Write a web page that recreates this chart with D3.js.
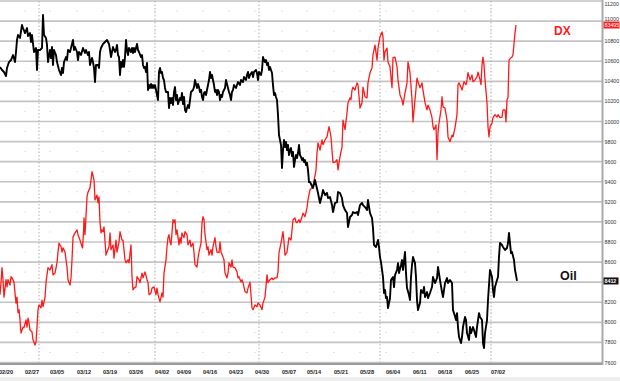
<!DOCTYPE html>
<html><head><meta charset="utf-8">
<script src="https://cdn.jsdelivr.net/npm/d3@7"></script>
<style>body{margin:0;background:#fff}svg{display:block;font-family:"Liberation Sans",Arial,sans-serif}</style>
</head><body><svg id="c" width="620" height="381"></svg>
<script>
// ---- data ----
const tickBars = [0,26,51,78,104,130,156,178,204,230,256,283,308,335,361,387,414,439,466,492];
const tickLabels = ["02/20","02/27","03/05","03/12","03/19","03/26","04/02","04/09","04/16","04/23","04/30","05/07","05/14","05/21","05/28","06/04","06/11","06/18","06/25","07/02"];
const monthStartBars = [40,156,260,381,492];
const yTicks = [7600,7800,8000,8200,8400,8600,8800,9000,9200,9400,9600,9800,10000,10200,10400,10600,10800,11000,11200];
const oilLast = 8412;
const dxLast = 83.495;
const oil = [[1,10543],[3,10513],[5,10493],[7,10453],[8,10533],[10,10592],[12,10612],[14,10662],[16,10592],[17,10692],[18,10812],[19,10861],[21,10832],[23,10961],[24,10931],[26,10881],[28,10931],[29,10851],[31,10881],[32,10792],[33,10861],[35,10692],[37,10732],[38,10513],[39,10712],[41,10712],[43,10732],[44,11061],[45,10861],[47,10832],[48,10762],[49,10592],[51,10712],[52,10632],[53,10742],[54,10563],[55,10712],[57,10662],[58,10592],[60,10513],[62,10463],[63,10533],[64,10483],[65,10592],[67,10642],[68,10612],[69,10712],[71,10692],[72,10732],[74,10812],[75,10712],[76,10742],[78,10692],[79,10612],[80,10692],[82,10662],[84,10732],[86,10682],[87,10712],[89,10662],[90,10692],[91,10563],[93,10632],[94,10592],[95,10533],[96,10393],[97,10563],[99,10563],[100,10533],[101,10692],[102,10732],[104,10772],[106,10792],[108,10812],[110,10772],[111,10712],[112,10642],[113,10692],[114,10742],[116,10692],[117,10712],[118,10762],[119,10662],[120,10642],[121,10463],[122,10592],[123,10543],[124,10612],[125,10543],[126,10642],[127,10812],[128,10712],[129,10662],[130,10732],[132,10692],[133,10732],[134,10682],[135,10732],[136,10692],[138,10772],[139,10712],[140,10692],[142,10642],[143,10662],[144,10563],[145,10533],[146,10543],[147,10493],[148,10583],[149,10314],[150,10363],[151,10334],[152,10373],[153,10334],[154,10363],[155,10334],[156,10363],[157,10314],[158,10264],[159,10214],[160,10493],[161,10533],[162,10483],[163,10493],[164,10433],[165,10413],[166,10334],[167,10294],[169,10294],[170,10134],[171,10234],[172,10184],[173,10234],[174,10164],[175,10294],[176,10343],[177,10214],[178,10264],[179,10174],[181,10234],[182,10214],[183,10284],[184,10174],[185,10244],[186,10114],[187,10094],[188,10134],[189,10164],[190,10134],[191,10214],[192,10294],[194,10314],[195,10343],[196,10413],[197,10373],[198,10334],[199,10373],[200,10343],[201,10294],[202,10314],[203,10244],[204,10214],[205,10284],[206,10294],[207,10264],[208,10314],[209,10363],[210,10413],[211,10493],[212,10433],[213,10463],[214,10413],[215,10363],[216,10294],[217,10314],[218,10264],[219,10314],[220,10294],[221,10214],[222,10264],[223,10244],[224,10294],[225,10314],[226,10334],[227,10413],[228,10373],[229,10334],[230,10294],[231,10264],[232,10214],[233,10294],[234,10314],[235,10363],[237,10334],[238,10363],[239,10393],[241,10363],[242,10413],[244,10393],[245,10443],[247,10413],[248,10463],[249,10493],[250,10433],[251,10463],[253,10493],[254,10443],[255,10493],[257,10513],[258,10483],[259,10413],[260,10493],[262,10463],[263,10513],[264,10642],[265,10612],[266,10592],[267,10612],[268,10563],[269,10583],[270,10513],[271,10543],[272,10513],[273,10483],[274,10363],[275,10264],[276,10284],[277,10244],[278,10214],[279,10065],[280,9865],[281,9816],[282,9766],[283,9537],[284,9716],[285,9816],[286,9746],[287,9796],[288,9716],[289,9766],[290,9666],[291,9716],[292,9736],[293,9656],[294,9696],[295,9547],[296,9616],[297,9666],[298,9636],[299,9686],[300,9766],[301,9666],[302,9646],[303,9616],[304,9636],[305,9596],[306,9616],[307,9567],[308,9587],[309,9517],[310,9397],[311,9397],[314,9338],[316,9417],[319,9288],[321,9188],[323,9268],[324,9318],[326,9268],[328,9288],[329,9238],[331,9248],[333,9168],[334,9098],[336,9188],[338,9198],[339,9298],[341,9288],[343,9238],[344,9168],[346,9118],[348,9088],[349,8949],[351,9049],[353,9069],[354,9098],[356,9088],[358,9098],[359,9069],[361,9168],[363,9188],[364,9168],[366,9148],[368,9118],[369,9218],[371,9088],[373,9039],[374,8939],[375,8770],[377,8750],[379,8820],[380,8750],[381,8650],[382,8600],[384,8451],[385,8292],[386,8322],[387,8242],[388,8252],[389,8142],[391,8242],[392,8421],[394,8451],[395,8351],[396,8471],[398,8521],[399,8590],[400,8491],[402,8571],[403,8620],[404,8521],[406,8700],[407,8491],[408,8342],[410,8272],[411,8222],[412,8451],[413,8571],[414,8650],[416,8590],[417,8451],[418,8222],[419,8122],[421,8192],[422,8322],[424,8292],[425,8352],[426,8252],[428,8302],[429,8242],[431,8292],[433,8352],[434,8451],[436,8391],[438,8441],[439,8551],[441,8421],[443,8302],[444,8252],[446,8391],[448,8441],[449,8391],[451,8421],[453,8391],[454,8122],[455,8092],[457,8023],[458,8092],[459,7953],[460,7854],[462,7794],[463,7854],[464,7953],[466,8053],[467,8023],[468,7893],[470,7824],[471,7953],[472,7893],[474,7953],[475,7923],[477,7854],[478,7953],[480,8092],[481,8053],[483,8023],[484,7794],[485,7744],[486,7893],[488,8023],[489,8222],[491,8521],[493,8451],[494,8322],[495,8252],[496,8352],[498,8421],[499,8451],[500,8650],[501,8790],[503,8770],[504,8750],[506,8720],[508,8740],[509,8790],[510,8889],[512,8690],[513,8700],[515,8620],[516,8521],[517,8471],[518,8412]];
const dx = [[1,79.00],[2,79.20],[3,79.45],[4,79.25],[5,78.96],[7,79.25],[8,79.13],[9,79.25],[11,79.16],[12,79.30],[13,79.28],[15,79.21],[16,79.03],[17,78.86],[18,78.96],[19,78.70],[20,78.75],[21,78.58],[22,78.36],[24,78.46],[25,78.45],[27,78.58],[28,78.46],[29,78.61],[30,78.53],[31,78.41],[33,78.38],[34,78.25],[36,78.16],[37,78.21],[38,78.46],[39,78.75],[40,78.83],[42,78.78],[43,78.91],[44,78.80],[46,78.95],[47,79.20],[48,79.33],[49,79.45],[51,79.41],[53,79.50],[54,79.33],[56,79.36],[58,79.53],[59,79.71],[60,79.86],[62,79.80],[63,79.71],[64,79.78],[66,79.71],[68,79.46],[69,79.25],[71,79.16],[72,79.28],[73,79.58],[74,79.96],[76,80.03],[78,80.08],[79,80.00],[81,79.91],[83,79.80],[83.5,79.78],[84.5,80.03],[85,80.28],[86,80.00],[88,80.63],[89,80.71],[91,80.78],[92,80.91],[93,81.05],[95,80.91],[96,80.58],[98,80.66],[99,80.53],[100,80.63],[101,80.21],[102,80.03],[103,80.08],[104,80.05],[105,80.13],[107,79.66],[108,79.71],[110,79.80],[111,80.03],[112,79.75],[114,79.83],[115,79.61],[117,79.91],[118,79.71],[120,79.88],[121,80.05],[123,79.91],[124,79.91],[126,79.58],[127,79.53],[129,79.58],[130,79.53],[132,79.83],[133,79.30],[134,79.08],[135,79.11],[137,79.13],[138,79.30],[140,79.25],[141,79.20],[143,79.36],[144,79.28],[146,79.38],[148,79.25],[149,79.20],[150,79.00],[152,79.03],[153,79.11],[155,79.13],[157,79.00],[158,79.11],[159,79.00],[161,78.88],[163,79.03],[164,78.96],[165,79.36],[167,79.58],[168,79.80],[169,79.95],[170,80.00],[171,79.88],[172,79.83],[174,80.25],[175,80.20],[176,80.25],[177,80.00],[178,80.08],[180,79.83],[181,79.95],[182,79.86],[183,80.03],[185,79.95],[186,80.05],[188,80.00],[189,79.83],[191,79.91],[192,79.80],[194,79.86],[195,79.70],[196,79.50],[198,79.46],[199,79.61],[200,79.71],[202,79.86],[203,80.20],[204,80.30],[205,80.25],[206,80.00],[208,79.75],[209,79.80],[210,79.66],[212,79.75],[213,79.66],[214,79.80],[216,79.95],[217,79.80],[218,79.71],[220,79.70],[221,79.88],[222,79.71],[224,79.63],[225,79.58],[226,79.36],[228,79.28],[229,79.36],[230,79.53],[232,79.46],[233,79.58],[234,79.46],[236,79.45],[238,79.38],[239,79.28],[240,79.30],[242,79.21],[243,79.25],[244,79.20],[246,79.05],[248,79.03],[249,79.11],[251,79.21],[252,79.00],[253,78.78],[254,78.75],[256,78.83],[258,78.80],[259,78.86],[261,78.83],[263,78.75],[264,78.86],[266,78.96],[268,79.33],[269,79.20],[271,79.25],[273,79.28],[274,79.25],[276,79.28],[278,79.28],[279,79.38],[280,79.70],[282,79.86],[284,80.05],[285,79.88],[286,79.66],[288,79.71],[289,79.83],[290,79.95],[292,79.91],[293,80.08],[294,80.25],[296,80.28],[297,80.21],[298,80.20],[300,80.25],[301,80.20],[303,80.30],[304,80.36],[306,80.30],[308,80.45],[309,80.58],[311,80.75],[314,80.80],[317,81.08],[318,81.36],[319,81.53],[321,81.41],[323,81.58],[324,81.50],[326,81.58],[328,81.63],[330,81.80],[332,81.63],[333,81.41],[334,81.20],[336,81.21],[338,81.25],[339,81.08],[341,81.30],[343,81.46],[344,81.91],[346,81.75],[348,82.03],[349,82.20],[351,82.28],[352,82.25],[353,82.41],[354,82.46],[356,82.41],[358,82.53],[359,82.50],[361,82.11],[363,82.20],[364,82.46],[366,82.30],[368,82.28],[369,82.53],[371,82.70],[373,82.78],[374,83.00],[376,83.16],[378,82.91],[379,83.11],[381,83.30],[383,83.38],[384,83.30],[385,82.91],[386,83.05],[388,83.11],[389,82.88],[391,82.80],[393,82.45],[394,82.95],[396,82.96],[398,82.80],[399,82.58],[401,82.33],[403,82.25],[404,82.16],[406,82.36],[408,82.53],[409,82.88],[411,82.70],[413,82.25],[414,81.88],[416,82.25],[418,82.61],[419,82.55],[421,82.45],[423,82.53],[424,82.41],[426,82.20],[428,82.08],[429,82.16],[431,82.08],[433,81.95],[434,81.80],[435,81.75],[437,81.83],[438,81.25],[439,81.70],[440,81.86],[442,82.08],[443,82.30],[444,82.13],[446,82.11],[448,81.91],[449,81.63],[451,81.55],[453,81.66],[454,81.63],[456,81.78],[458,82.00],[459,82.50],[460,82.53],[462,82.46],[463,82.41],[465,82.55],[467,82.50],[468,82.58],[469,82.70],[471,82.58],[473,82.66],[474,82.55],[476,82.58],[478,82.63],[479,82.71],[481,82.58],[482,82.50],[483,82.83],[484,82.96],[485,82.83],[486,82.58],[488,82.20],[489,81.80],[490,81.63],[491,81.80],[493,81.86],[494,81.95],[496,82.00],[498,81.96],[499,82.00],[501,81.95],[503,81.96],[504,82.08],[506,82.08],[507,81.88],[508,82.25],[509,82.28],[510,82.91],[512,82.95],[513,82.96],[514,83.00],[516,83.36],[517,83.495]];

// ---- layout ----
const svg = d3.select("#c");
const plotL = 0, plotR = 602, plotT = 1, plotB = 362.5;
const x = d3.scaleLinear().domain([1, 603]).range([plotL, plotR]);
const y = d3.scaleLinear().domain([7600, 11200]).range([plotB, plotT]);
const yDX = d3.scaleLinear().domain([77.87, 83.895]).range([plotB, plotT]);

// bottom light strip
svg.append("rect").attr("x",0).attr("y",377).attr("width",620).attr("height",4).attr("fill","#eeeeee");

// horizontal grid
svg.append("g").selectAll("line").data(yTicks).join("line")
  .attr("x1",plotL).attr("x2",plotR).attr("y1",d=>y(d)).attr("y2",d=>y(d))
  .attr("stroke","#c4c4c4").attr("stroke-width",1.6);

// dots grid (mid-levels x weekly ticks)
const dots = [];
tickBars.forEach(b => yTicks.slice(0,-1).forEach(v => dots.push([b, v + 100])));
svg.append("g").selectAll("rect").data(dots).join("rect")
  .attr("x",d=>x(d[0])-0.5).attr("y",d=>y(d[1])-0.5).attr("width",1).attr("height",1).attr("fill","#c8c8c8");

// month dotted lines
svg.append("g").selectAll("line").data(monthStartBars).join("line")
  .attr("x1",d=>x(d)).attr("x2",d=>x(d)).attr("y1",plotT).attr("y2",plotB)
  .attr("stroke","#b0b0b0").attr("stroke-width",1).attr("stroke-dasharray","1.5,2");

// axes frame
svg.append("line").attr("x1",plotL).attr("x2",plotR+1).attr("y1",plotB+1.5).attr("y2",plotB+1.5).attr("stroke","#9a9a9a").attr("stroke-width",2);
svg.append("line").attr("x1",plotR+0.5).attr("x2",plotR+0.5).attr("y1",0).attr("y2",plotB+2.5).attr("stroke","#aaaaaa").attr("stroke-width",2);

// lines
const lineDX = d3.line().x(d=>x(d[0])).y(d=>yDX(d[1]));
const lineOil = d3.line().x(d=>x(d[0])).y(d=>y(d[1]));
svg.append("path").datum(dx).attr("d",lineDX).attr("fill","none").attr("stroke","#ff1a1a").attr("stroke-width",1.3).attr("stroke-linejoin","round");
svg.append("path").datum(oil).attr("d",lineOil).attr("fill","none").attr("stroke","#000").attr("stroke-width",1.9).attr("stroke-linejoin","round");

// x labels
svg.append("g").selectAll("text").data(tickBars).join("text")
  .attr("x",d=>x(d)).attr("y",373.5).attr("font-size",5.6).attr("fill","#222")
  .attr("font-weight","bold").text((d,i)=>tickLabels[i]);

// right labels
svg.append("g").selectAll("text").data(yTicks.filter(v=>v!==8400)).join("text")
  .attr("x",604.5).attr("y",d=>d===11200 ? y(d)+4.5 : y(d)+(d===11000?0:2)).attr("font-size",5.3).attr("fill","#333")
  .text(d=>d);

// last value boxes
const oy = y(oilLast);
svg.append("rect").attr("x",603.5).attr("y",oy-3.5).attr("width",15).attr("height",7).attr("fill","#111");
svg.append("text").attr("x",604.5).attr("y",oy+2).attr("font-size",5.3).attr("fill","#fff").attr("font-weight","bold").text(oilLast);
const dy = yDX(dxLast);
svg.append("rect").attr("x",603.5).attr("y",dy-3.5).attr("width",16).attr("height",7).attr("fill","#ff1a1a");
svg.append("text").attr("x",604.5).attr("y",dy+2).attr("font-size",5.3).attr("fill","#fff").text(String(dxLast).replace(".",""));

// series labels
svg.append("text").attr("x",554).attr("y",35).attr("font-size",12).attr("font-weight","bold").attr("fill","#ff1a1a").text("DX");
svg.append("text").attr("x",560).attr("y",280).attr("font-size",12.5).attr("font-weight","bold").attr("fill","#111").text("Oil");
</script></body></html>
